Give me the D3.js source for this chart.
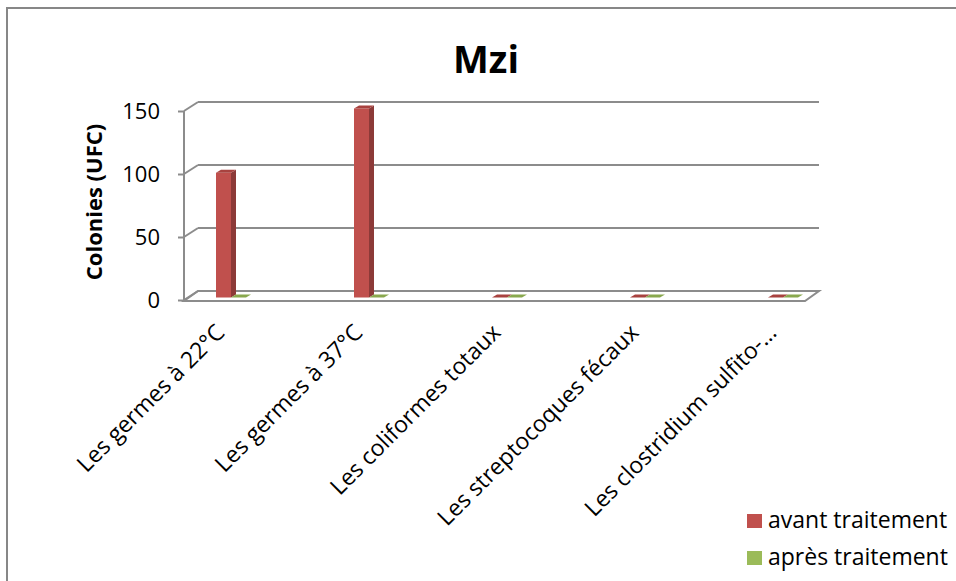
<!DOCTYPE html>
<html>
  <head>
    <meta charset="utf-8">
    <title>Mzi</title>
    <style>
    body { margin: 0; background: #fff; }
    text { font-family: "Open Sans", sans-serif; fill: #000; }
    .grid line, .grid path { stroke: #8c8c8c; stroke-width: 2; fill: none; }
    </style>
  </head>
  <body>
    <script src="https://d3js.org/d3.v7.min.js"></script>
    <script>

    // data
    var categories = ["Les germes à 22°C", "Les germes à 37°C", "Les coliformes totaux",
                      "Les streptocoques fécaux", "Les clostridium sulfito-…"];
    var avant = [99, 150, 0, 0, 0];
    var apres = [0, 0, 0, 0, 0];
    var seriesNames = ["avant traitement", "après traitement"];
    var yTicks = [0, 50, 100, 150];

    var width = 956, height = 581;
    var front = {left: 184, right: 805};   // front plane of the floor
    var DX = 14, DY = -9;                   // depth of the 3d box
    var barW = 15, sideX = 5, sideY = -3, barShift = -2.5;
    var colors = [
      {face: "#C0504D", side: "#8C3A38", top: "#A8423F"},
      {face: "#9BBB59", side: "#738C40", top: "#89A84E"}
    ];
    var series = [avant, apres];

    var svg = d3.select("body").append("svg")
        .attr("width", width)
        .attr("height", height);

    // chart border
    svg.append("rect")
        .attr("x", 7).attr("y", 8)
        .attr("width", 980).attr("height", 620)
        .attr("fill", "none")
        .attr("stroke", "#878787")
        .attr("stroke-width", 2);

    var x = d3.scalePoint()
        .domain(categories)
        .range([231, 783]);

    var y = d3.scaleLinear()
        .domain([0, 150])
        .range([300, 111]);

    var grid = svg.append("g").attr("class", "grid");

    // back wall gridlines
    grid.selectAll("line.back")
        .data(yTicks)
        .enter().append("line")
          .attr("class", "back")
          .attr("x1", front.left + DX)
          .attr("x2", front.right + DX)
          .attr("y1", function(d) { return y(d) + DY; })
          .attr("y2", function(d) { return y(d) + DY; });

    // side wall gridlines
    grid.selectAll("line.side")
        .data(yTicks)
        .enter().append("line")
          .attr("class", "side")
          .attr("x1", front.left)
          .attr("x2", front.left + DX)
          .attr("y1", function(d) { return y(d); })
          .attr("y2", function(d) { return y(d) + DY; });

    // floor
    var y0 = y(0);
    grid.append("path")
        .attr("fill", "#fff")
        .attr("d", "M" + front.left + "," + (y0 + 1) +
                   "L" + front.right + "," + (y0 + 1) +
                   "L" + (front.right + DX) + "," + (y0 + DY) +
                   "L" + (front.left + DX) + "," + (y0 + DY) + "Z");

    // vertical axis
    var yAxis = d3.axisLeft(y)
        .tickValues(yTicks)
        .tickSize(6)
        .tickPadding(18)
        .tickSizeOuter(0);

    var axisG = svg.append("g")
        .attr("class", "grid")
        .attr("transform", "translate(" + front.left + ",0)")
        .call(yAxis);
    axisG.select(".domain").attr("d", "M0," + y(150) + "V" + (y0 + 1));
    axisG.selectAll(".tick line").attr("stroke", "#8c8c8c").attr("stroke-width", 2);
    axisG.selectAll(".tick text")
        .attr("font-family", "Open Sans")
        .style("font-size", "22px")
        .attr("fill", "#000")
        .attr("dy", "0.36em");

    // bars (front face, side, top)
    var bars = svg.append("g");
    series.forEach(function(vals, s) {
      var g = bars.append("g");
      var data = categories.map(function(c, i) { return {cat: c, v: vals[i]}; });
      var left = function(d) { return x(d.cat) - barW + s * barW; };
      var base = y0 + barShift;
      var top = function(d) { return y(d.v) + barShift; };

      g.selectAll("rect.face")
          .data(data.filter(function(d) { return d.v > 0; }))
          .enter().append("rect")
            .attr("x", left)
            .attr("y", top)
            .attr("width", barW)
            .attr("height", function(d) { return base - top(d); })
            .attr("fill", colors[s].face);

      g.selectAll("path.side")
          .data(data.filter(function(d) { return d.v > 0; }))
          .enter().append("path")
            .attr("fill", colors[s].side)
            .attr("d", function(d) {
              var xr = left(d) + barW;
              return "M" + xr + "," + top(d) + "L" + (xr + sideX) + "," + (top(d) + sideY) +
                     "L" + (xr + sideX) + "," + (base + sideY) + "L" + xr + "," + base + "Z";
            });

      g.selectAll("path.top")
          .data(data)
          .enter().append("path")
            .attr("fill", colors[s].top)
            .attr("d", function(d) {
              var xl = left(d), t = top(d);
              return "M" + xl + "," + t + "L" + (xl + barW) + "," + t +
                     "L" + (xl + barW + sideX) + "," + (t + sideY) +
                     "L" + (xl + sideX) + "," + (t + sideY) + "Z";
            });
    });

    // category labels
    svg.append("g").selectAll("text")
        .data(categories)
        .enter().append("text")
          .attr("text-anchor", "end")
          .style("font-size", "23px")
          .attr("transform", function(d) {
            return "translate(" + (x(d) - 5) + ",334) rotate(-45)";
          })
          .text(function(d) { return d; });

    // title
    svg.append("text")
        .attr("x", 486)
        .attr("y", 73)
        .attr("text-anchor", "middle")
        .style("font-size", "38px")
        .style("font-weight", "bold")
        .text("Mzi");

    // y axis title
    svg.append("text")
        .attr("transform", "translate(102,202) rotate(-90)")
        .attr("text-anchor", "middle")
        .style("font-size", "22px")
        .style("font-weight", "bold")
        .text("Colonies (UFC)");

    // legend
    var legend = svg.append("g").selectAll("g")
        .data(seriesNames)
        .enter().append("g")
          .attr("transform", function(d, i) { return "translate(747," + (514 + i * 37) + ")"; });

    legend.append("rect")
        .attr("width", 15)
        .attr("height", 14)
        .attr("fill", function(d, i) { return colors[i].face; });

    legend.append("text")
        .attr("x", 21)
        .attr("y", 14)
        .style("font-size", "23px")
        .text(function(d) { return d; });

    </script>
  </body>
</html>
